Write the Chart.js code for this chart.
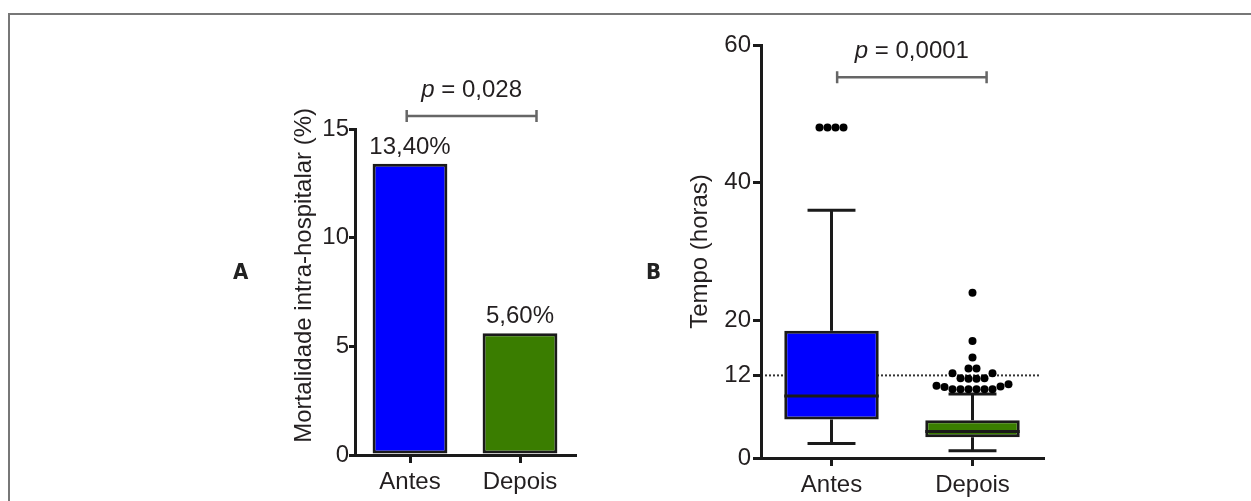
<!DOCTYPE html>
<html>
<head>
<meta charset="utf-8">
<script src="https://cdn.jsdelivr.net/npm/chart.js@4.4.1/dist/chart.umd.min.js"></script>
<style>
html, body { margin: 0; padding: 0; background: #fff; }
#wrap { position: relative; width: 1251px; height: 501px; overflow: hidden; }
#frame { position: absolute; left: 8px; top: 13px; width: 1260px; height: 500px; border-top: 2px solid #777; border-left: 2px solid #777; }
canvas { position: absolute; left: 0; top: 0; }
.tag { position: absolute; font: bold 22px 'DejaVu Sans Condensed', sans-serif; line-height: 22px; color: #222; }
</style>
</head>
<body>
<div id="wrap">
  <div id="frame"></div>
  <canvas id="chartA" width="1251" height="501"></canvas>
  <canvas id="chartB" width="1251" height="501"></canvas>
  <div class="tag" style="left:233px;top:261px">A</div>
  <div class="tag" style="left:646px;top:261px">B</div>
</div>
<script>
Chart.defaults.font.family = "'Liberation Sans', Arial, sans-serif";
Chart.defaults.font.size = 24;
Chart.defaults.color = '#231f20';

// dados
const categories = ['Antes', 'Depois'];
const mortalidade = [13.4, 5.6];
const mortalidadeTicks = [0, 5, 10, 15];
const pMortalidade = '0,028';

const tempoMin = [2.1, 1.05];
const tempoQ1 = [5.6, 3.0];
const tempoMediana = [9.0, 3.85];
const tempoQ3 = [18.5, 5.5];
const tempoMax = [36, 9.3];
const outliersAntes = [48, 48, 48, 48];
const outliersDepois = [24, 17, 14.6, 13, 13, 12.3, 12.3, 11.6, 11.5, 11.5, 11.6,
                        10.7, 10.5, 10.4, 10.3, 10, 10, 10, 10, 10, 10];
const tempoTicks = [0, 12, 20, 40, 60];
const tempoCorte = 12;
const pTempo = '0,0001';

const ink = '#1a1a1a';
const fmt = new Intl.NumberFormat('pt-BR', { minimumFractionDigits: 2 });

function axisGrid(len) {
    return { display: true, drawOnChartArea: false, drawTicks: true, tickLength: len, lineWidth: 3, color: ink, offset: false };
}

// p = ... com colchete
function drawBracket(chart, o) {
    const { ctx, scales: { x, y } } = chart;
    const x1 = x.getPixelForValue(o.from), x2 = x.getPixelForValue(o.to);
    const py = y.getPixelForValue(o.at);
    ctx.save();
    ctx.strokeStyle = '#666';
    ctx.lineWidth = 2.5;
    ctx.beginPath();
    ctx.moveTo(x1, py); ctx.lineTo(x2, py);
    ctx.moveTo(x1, py - 6); ctx.lineTo(x1, py + 6);
    ctx.moveTo(x2, py - 6); ctx.lineTo(x2, py + 6);
    ctx.stroke();
    const fam = Chart.defaults.font.family;
    ctx.fillStyle = '#231f20';
    ctx.textBaseline = 'alphabetic';
    ctx.font = 'italic 24px ' + fam;
    const wp = ctx.measureText('p').width;
    ctx.font = '24px ' + fam;
    const rest = ' = ' + o.text;
    const wr = ctx.measureText(rest).width;
    const left = (x1 + x2) / 2 - (wp + wr) / 2;
    ctx.font = 'italic 24px ' + fam;
    ctx.fillText('p', left, py - 19);
    ctx.font = '24px ' + fam;
    ctx.fillText(rest, left + wp, py - 19);
    ctx.restore();
}

const bracketPlugin = {
    id: 'bracket',
    afterDraw(chart, args, opts) { drawBracket(chart, opts); }
};

const barLabels = {
    id: 'barLabels',
    afterDatasetsDraw(chart) {
        const { ctx } = chart;
        const meta = chart.getDatasetMeta(0);
        ctx.save();
        ctx.font = '24px ' + Chart.defaults.font.family;
        ctx.fillStyle = '#231f20';
        ctx.textAlign = 'center';
        ctx.textBaseline = 'alphabetic';
        meta.data.forEach((bar, i) => {
            ctx.fillText(fmt.format(mortalidade[i]) + '%', bar.x, bar.y - 10);
        });
        ctx.restore();
    }
};

new Chart(document.getElementById('chartA'), {
    type: 'bar',
    plugins: [barLabels, bracketPlugin],
    data: {
        labels: categories,
        datasets: [{
            data: mortalidade,
            backgroundColor: ['#0000ff', '#3a7d00'],
            borderColor: ink,
            borderWidth: 3,
            borderSkipped: false,
            barPercentage: 0.68,
            categoryPercentage: 1
        }]
    },
    options: {
        responsive: false,
        animation: false,
        layout: { padding: { left: 290, right: 676, top: 129, bottom: 6 } },
        plugins: {
            legend: { display: false },
            tooltip: { enabled: false },
            bracket: { from: -0.03, to: 1.15, at: 15.6, text: pMortalidade }
        },
        scales: {
            x: {
                grid: axisGrid(8),
                border: { display: true, width: 3, color: ink },
                ticks: { padding: 5, color: '#231f20' },
                afterFit(s) { s.height = 40; }
            },
            y: {
                min: 0, max: 15,
                afterBuildTicks(s) { s.ticks = mortalidadeTicks.map(v => ({ value: v })); },
                grid: axisGrid(6),
                border: { display: true, width: 3, color: ink },
                ticks: { padding: 0, color: '#231f20' },
                title: { display: true, text: '\u00a0\u00a0\u00a0\u00a0\u00a0Mortalidade intra-hospitalar (%)', padding: 0, color: '#231f20' },
                afterFit(s) { s.width = 65; }
            }
        }
    }
});

// caixas e bigodes
const boxPlot = {
    id: 'boxPlot',
    beforeDatasetsDraw(chart) {
        const { ctx, chartArea, scales: { x, y } } = chart;
        ctx.save();
        // linha de corte pontilhada
        const yc = y.getPixelForValue(tempoCorte);
        ctx.strokeStyle = '#333';
        ctx.lineWidth = 2;
        ctx.setLineDash([2, 2]);
        ctx.beginPath();
        ctx.moveTo(chartArea.left + 4, yc);
        ctx.lineTo(chartArea.right - 3, yc);
        ctx.stroke();
        ctx.setLineDash([]);
        ctx.strokeStyle = ink;
        ctx.lineWidth = 3;
        categories.forEach((c, i) => {
            const cx = x.getPixelForValue(i);
            const half = (x.getPixelForValue(i + 0.17) - cx);
            const yMin = y.getPixelForValue(tempoMin[i]), yMax = y.getPixelForValue(tempoMax[i]);
            ctx.beginPath();
            ctx.moveTo(cx, y.getPixelForValue(tempoQ3[i])); ctx.lineTo(cx, yMax);
            ctx.moveTo(cx, y.getPixelForValue(tempoQ1[i])); ctx.lineTo(cx, yMin);
            ctx.moveTo(cx - half, yMax); ctx.lineTo(cx + half, yMax);
            ctx.moveTo(cx - half, yMin); ctx.lineTo(cx + half, yMin);
            ctx.stroke();
        });
        ctx.restore();
    },
    afterDatasetsDraw(chart) {
        const { ctx, scales: { y } } = chart;
        const meta = chart.getDatasetMeta(1);
        ctx.save();
        ctx.strokeStyle = ink;
        ctx.lineWidth = 3;
        meta.data.forEach((bar, i) => {
            const ym = y.getPixelForValue(tempoMediana[i]);
            ctx.beginPath();
            ctx.moveTo(bar.x - bar.width / 2, ym);
            ctx.lineTo(bar.x + bar.width / 2, ym);
            ctx.stroke();
        });
        ctx.restore();
    }
};

const chartB = new Chart(document.getElementById('chartB'), {
    type: 'bar',
    plugins: [boxPlot, bracketPlugin],
    data: {
        datasets: [{
            type: 'scatter',
            order: 0,
            data: outliersAntes.map(v => ({ x: 0, y: v })).concat(outliersDepois.map(v => ({ x: 1, y: v }))),
            pointRadius: 4,
            pointBackgroundColor: '#000',
            pointBorderWidth: 0
        }, {
            type: 'bar',
            order: 1,
            data: categories.map((c, i) => ({ x: i, y: [tempoQ1[i], tempoQ3[i]] })),
            backgroundColor: ['#0000ff', '#3a7d00'],
            borderColor: ink,
            borderWidth: 3,
            borderSkipped: false,
            barPercentage: 0.67,
            categoryPercentage: 1
        }]
    },
    options: {
        responsive: false,
        animation: false,
        layout: { padding: { left: 686, right: 208, top: 45, bottom: 3 } },
        plugins: {
            legend: { display: false },
            tooltip: { enabled: false },
            bracket: { from: 0.04, to: 1.1, at: 55.3, text: pTempo }
        },
        scales: {
            x: {
                type: 'linear',
                min: -0.5, max: 1.5,
                offset: false,
                afterBuildTicks(s) { s.ticks = categories.map((c, i) => ({ value: i })); },
                grid: axisGrid(8),
                border: { display: true, width: 3, color: ink },
                ticks: { padding: 5, color: '#231f20', callback: v => categories[v] },
                afterFit(s) { s.height = 40; }
            },
            y: {
                min: 0, max: 60,
                afterBuildTicks(s) { s.ticks = tempoTicks.map(v => ({ value: v })); },
                grid: axisGrid(8),
                border: { display: true, width: 3, color: ink },
                ticks: { padding: 2, color: '#231f20' },
                title: { display: true, text: 'Tempo (horas)', padding: 0, color: '#231f20' },
                afterFit(s) { s.width = 75; }
            }
        }
    }
});

// pontos aberrantes em fileiras centradas (como no GraphPad), via escalas do gráfico
function rows(chart, values, center, r) {
    const xs = chart.scales.x, ys = chart.scales.y;
    const cx = xs.getPixelForValue(center);
    const sorted = values.slice().sort((a, b) => a - b);
    const groups = [];
    sorted.forEach(v => {
        const g = groups[groups.length - 1];
        if (g && Math.abs(ys.getPixelForValue(g[0]) - ys.getPixelForValue(v)) < 2 * r) g.push(v);
        else groups.push([v]);
    });
    const out = [];
    groups.forEach(g => {
        const n = g.length;
        const slots = [];
        for (let k = 0; k < n; k++) slots.push((k - (n - 1) / 2) * 2 * r);
        slots.sort((a, b) => Math.abs(a) - Math.abs(b) || a - b);
        g.forEach((v, k) => out.push({ x: xs.getValueForPixel(cx + slots[k]), y: v }));
    });
    return out;
}

chartB.data.datasets[0].data = rows(chartB, outliersAntes, 0, 4).concat(rows(chartB, outliersDepois, 1, 4));
chartB.update('none');
</script>
</body>
</html>
